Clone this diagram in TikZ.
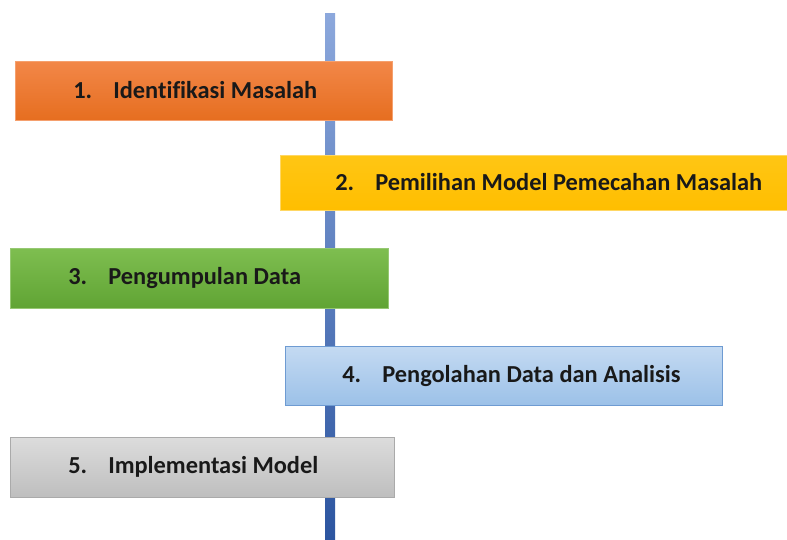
\documentclass[tikz,border=0pt]{standalone}
\usepackage{fontspec}
\setmainfont{Carlito}[Ligatures=NoCommon]
\begin{document}
\begin{tikzpicture}[x=0.75pt,y=-0.75pt,
  steplabel/.style={anchor=west, inner sep=0pt, font=\bfseries\fontsize{18.3}{22}\selectfont, text={rgb,255:red,25;green,25;blue,25}}]
\definecolor{orT}{RGB}{242,135,72}
\definecolor{orB}{RGB}{230,110,32}
\definecolor{yeT}{RGB}{255,198,20}
\definecolor{yeB}{RGB}{255,190,0}
\definecolor{grT}{RGB}{126,190,80}
\definecolor{grB}{RGB}{96,164,52}
\definecolor{blT}{RGB}{196,218,242}
\definecolor{blB}{RGB}{156,193,232}
\definecolor{gyT}{RGB}{220,220,220}
\definecolor{gyB}{RGB}{190,190,190}
\definecolor{barT}{RGB}{140,168,220}
\definecolor{barB}{RGB}{44,85,160}
\useasboundingbox (0,0) rectangle (787,539);
\fill[white] (0,0) rectangle (787,539);
% vertical axis
\coordinate (axT) at (325,13);
\coordinate (axB) at (335,539);
\shade[top color=barT, bottom color=barB] (axT) rectangle (axB);
% boxes
\shade[top color=orT, bottom color=orB] (15,61) rectangle (392,120);
\draw[draw={rgb,255:red,245;green,160;blue,110}, line width=0.6pt] (15,61) rectangle (392,120);
\node[steplabel] (s1) at (73,90.5) {\makebox[30pt][l]{1.}Identifikasi Masalah};

\shade[top color=yeT, bottom color=yeB] (280,155) rectangle (790,210);
\draw[draw={rgb,255:red,255;green,215;blue,100}, line width=0.6pt] (280,155) rectangle (790,210);
\node[steplabel] (s2) at (335,182.5) {\makebox[30pt][l]{2.}Pemilihan Model Pemecahan Masalah};

\shade[top color=grT, bottom color=grB] (10,248) rectangle (388,308);
\draw[draw={rgb,255:red,150;green,200;blue,115}, line width=0.6pt] (10,248) rectangle (388,308);
\node[steplabel] (s3) at (68,278) {\makebox[30pt][l]{3.}Pengumpulan Data};

\shade[top color=blT, bottom color=blB] (285,346) rectangle (722,405);
\draw[draw={rgb,255:red,110;green,155;blue,210}, line width=0.6pt] (285,346) rectangle (722,405);
\node[steplabel] (s4) at (342,375.5) {\makebox[30pt][l]{4.}Pengolahan Data dan Analisis};

\shade[top color=gyT, bottom color=gyB] (10,437) rectangle (394,497);
\draw[draw={rgb,255:red,170;green,170;blue,170}, line width=0.6pt] (10,437) rectangle (394,497);
\node[steplabel] (s5) at (68,467) {\makebox[30pt][l]{5.}Implementasi Model};
\end{tikzpicture}
\end{document}
